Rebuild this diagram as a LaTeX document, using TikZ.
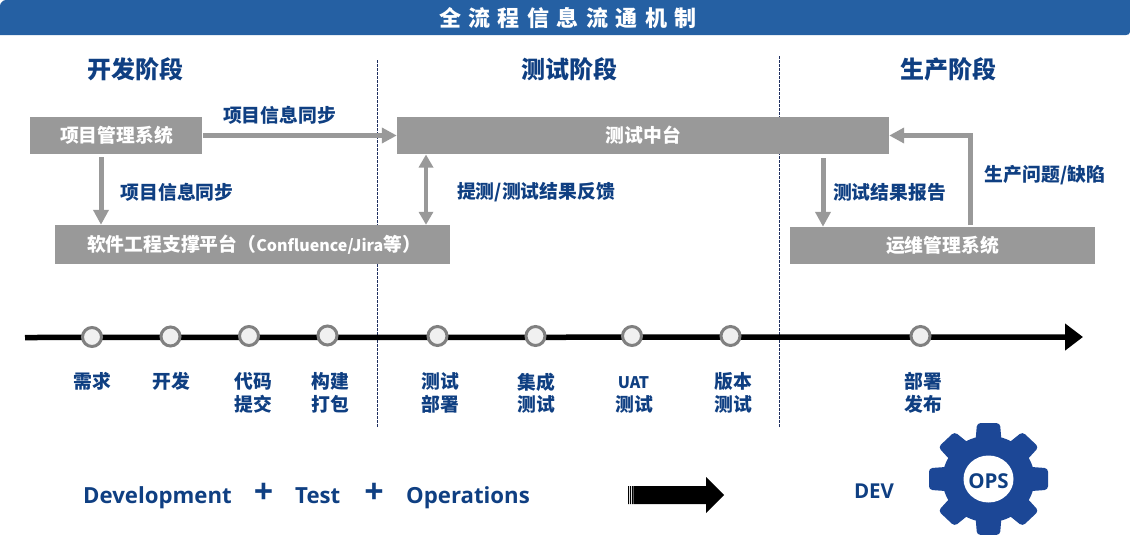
\documentclass[tikz,border=0pt]{standalone}
\usepackage{fontspec}
\setmainfont{Open Sans}
\newfontfamily\cjk{Noto Sans CJK SC}
\usetikzlibrary{arrows.meta}
\definecolor{band}{HTML}{2560A3}
\definecolor{navy}{HTML}{0F3F82}
\definecolor{boxgray}{HTML}{999999}
\definecolor{gearblue}{HTML}{1C4796}
\definecolor{dashc}{HTML}{1F2F60}
\newcommand{\fs}[1]{\fontsize{#1}{#1}\selectfont}
\tikzset{
 boxn/.style={fill=boxgray,inner sep=0pt,text=white,font=\cjk\bfseries\fs{18.8}},
 lab/.style={text=navy,font=\cjk\bfseries\fs{18.8},inner sep=0pt},
 phase/.style={text=navy,font=\cjk\bfseries\fs{24},inner sep=0pt},
 tick/.style={text=navy,font=\cjk\bfseries\fs{18.8},inner sep=0pt,align=center,execute at begin node={\setlength{\baselineskip}{22.5pt}}},
 latin/.style={text=navy,font=\bfseries\fs{22.2},inner sep=0pt},
 garrow/.style={draw=boxgray,line width=5pt,-{Triangle[length=15pt,width=15pt]}},
 darrow/.style={draw=boxgray,line width=4pt,{Triangle[length=13pt,width=14pt]}-{Triangle[length=13pt,width=14pt]}},
 divider/.style={draw=dashc,line width=0.7pt,dash pattern=on 2.5pt off 1.5pt},
 dot/.style={circle,draw=black!50,line width=3pt,fill=black!6,minimum size=19pt,inner sep=0pt},
}
\begin{document}
\begin{tikzpicture}[x=1pt,y=-1pt]
\useasboundingbox (0,0) rectangle (1130,536);
\fill[band] (0,35) -- (0,6) .. controls (0,3) and (3,0) .. (6,0) -- (1130,0) -- (1130,32) .. controls (1130,34) and (1128,35) .. (1126,35) -- cycle;
\node[text=white,font=\cjk\bfseries\fs{22},inner sep=0pt] (title) at (568,18) {全\kern7.5pt流\kern7.5pt程\kern7.5pt信\kern7.5pt息\kern7.5pt流\kern7.5pt通\kern7.5pt机\kern7.5pt制};

\coordinate (d1a) at (377.6,60); \coordinate (d1b) at (377.6,427);
\coordinate (d2a) at (779.6,56); \coordinate (d2b) at (779.6,427);
\draw[divider] (d1a) -- (d1b);
\draw[divider] (d2a) -- (d2b);

\node[phase] (p1) at (135.5,69.5) {开发阶段};
\node[phase] (p2) at (569,69.5) {测试阶段};
\node[phase] (p3) at (948,69.5) {生产阶段};

\node[boxn,minimum width=172pt,minimum height=37pt] (pm) at (116,135.5) {\kern1pt项目管理系统};
\node[boxn,minimum width=492pt,minimum height=37pt] (tc) at (643,135.5) {\kern1pt测试中台};
\node[boxn,minimum width=395pt,minimum height=39pt] (sw) at (252.5,244.5) {\kern3pt软件工程支撑平台（{\fs{16}Confluence/Jira}等）};
\node[boxn,minimum width=305pt,minimum height=37pt] (ops) at (942.5,245.5) {运维管理系统};

\coordinate (a1) at (101,157);
\coordinate (a2) at (426,154.5);
\coordinate (a3) at (823,158);
\coordinate (a4) at (970,225);
\draw[garrow] (pm.east) ++(1,0) -- (tc.west);
\draw[garrow] (a1) -- (a1 |- sw.north);
\draw[darrow] (a2) -- (a2 |- sw.north);
\draw[garrow] (a3) -- (a3 |- ops.north);
\draw[garrow] (a4) -- (a4 |- tc.east) -- (tc.east);

\node[lab] (l1) at (279.5,115) {项目信息同步};
\node[lab] (l2) at (177,192) {项目信息同步};
\node[lab] (l3) at (536,192) {提测/测试结果反馈};
\node[lab] (l4) at (889.5,192) {测试结果报告};
\node[lab] (l5) at (1045,175) {生产问题/缺陷};

\coordinate (t0) at (25,337.5);
\coordinate (t1) at (1083,337);
\draw[line width=5.5pt,-{Triangle[length=18pt,width=26pt]},black] (t0) -- (t1);

\foreach \n/\x/\y in {n1/92/337,n2/170.5/336.5,n3/249/336,n4/327.5/335.5,n5/437.5/336,n6/535.5/336,n7/632/336,n8/730.5/336,n9/920.5/336}
  \node[dot] (\n) at (\x,\y) {};

\node[tick,anchor=north] (k1) at (92.5,372.5) {需求};
\node[tick,anchor=north] (k2) at (171,372.5) {开发};
\node[tick,anchor=north] (k3) at (253.5,372.5) {代码\\提交};
\node[tick,anchor=north] (k4) at (330,372.5) {构建\\打包};
\node[tick,anchor=north] (k5) at (440,372.5) {测试\\部署};
\node[tick,anchor=north] (k6) at (536.5,372.5) {集成\\测试};
\node[tick,anchor=base] (k7a) at (633.5,388) {\fs{16}UAT};
\node[tick,anchor=north] (k7) at (634,395) {测试};
\node[tick,anchor=north] (k8) at (733,372.5) {版本\\测试};
\node[tick,anchor=north] (k9) at (923.5,372.5) {部署\\发布};

\node[latin,anchor=base west] (w1) at (83,503) {Development};
\node[latin,font=\bfseries\fs{34}] (w2) at (263.5,493) {+};
\node[latin,anchor=base west] (w3) at (295,503) {Test};
\node[latin,font=\bfseries\fs{34}] (w4) at (374,493) {+};
\node[latin,anchor=base west] (w5) at (406,503) {Operations};

\fill[black] (634,486) -- (706,486) -- (706,477) -- (724,495) -- (706,513) -- (706,504) -- (634,504) -- cycle;
\fill[black] (628,486) rectangle (629,504) (630,486) rectangle (631,504) (632,486) rectangle (633.5,504);

\node[latin,font=\bfseries\fs{20.5},anchor=base] (dev) at (874,498) {DEV};

% gear
\begin{scope}[shift={(988.5,479)},yscale=0.94]
\foreach \a in {0,45,...,315}
  \fill[gearblue,rotate=\a,rounded corners=3.5pt] (-13,-40) -- (-11.5,-59.5) -- (11.5,-59.5) -- (13,-40) -- cycle;
\fill[gearblue] (0,0) circle[radius=46];
\fill[white] (0,0) ellipse[x radius=25,y radius=25];
\end{scope}
\node[latin,font=\bfseries\fs{20.5},anchor=base] (opsl) at (988.5,488) {OPS};
\end{tikzpicture}
\end{document}
